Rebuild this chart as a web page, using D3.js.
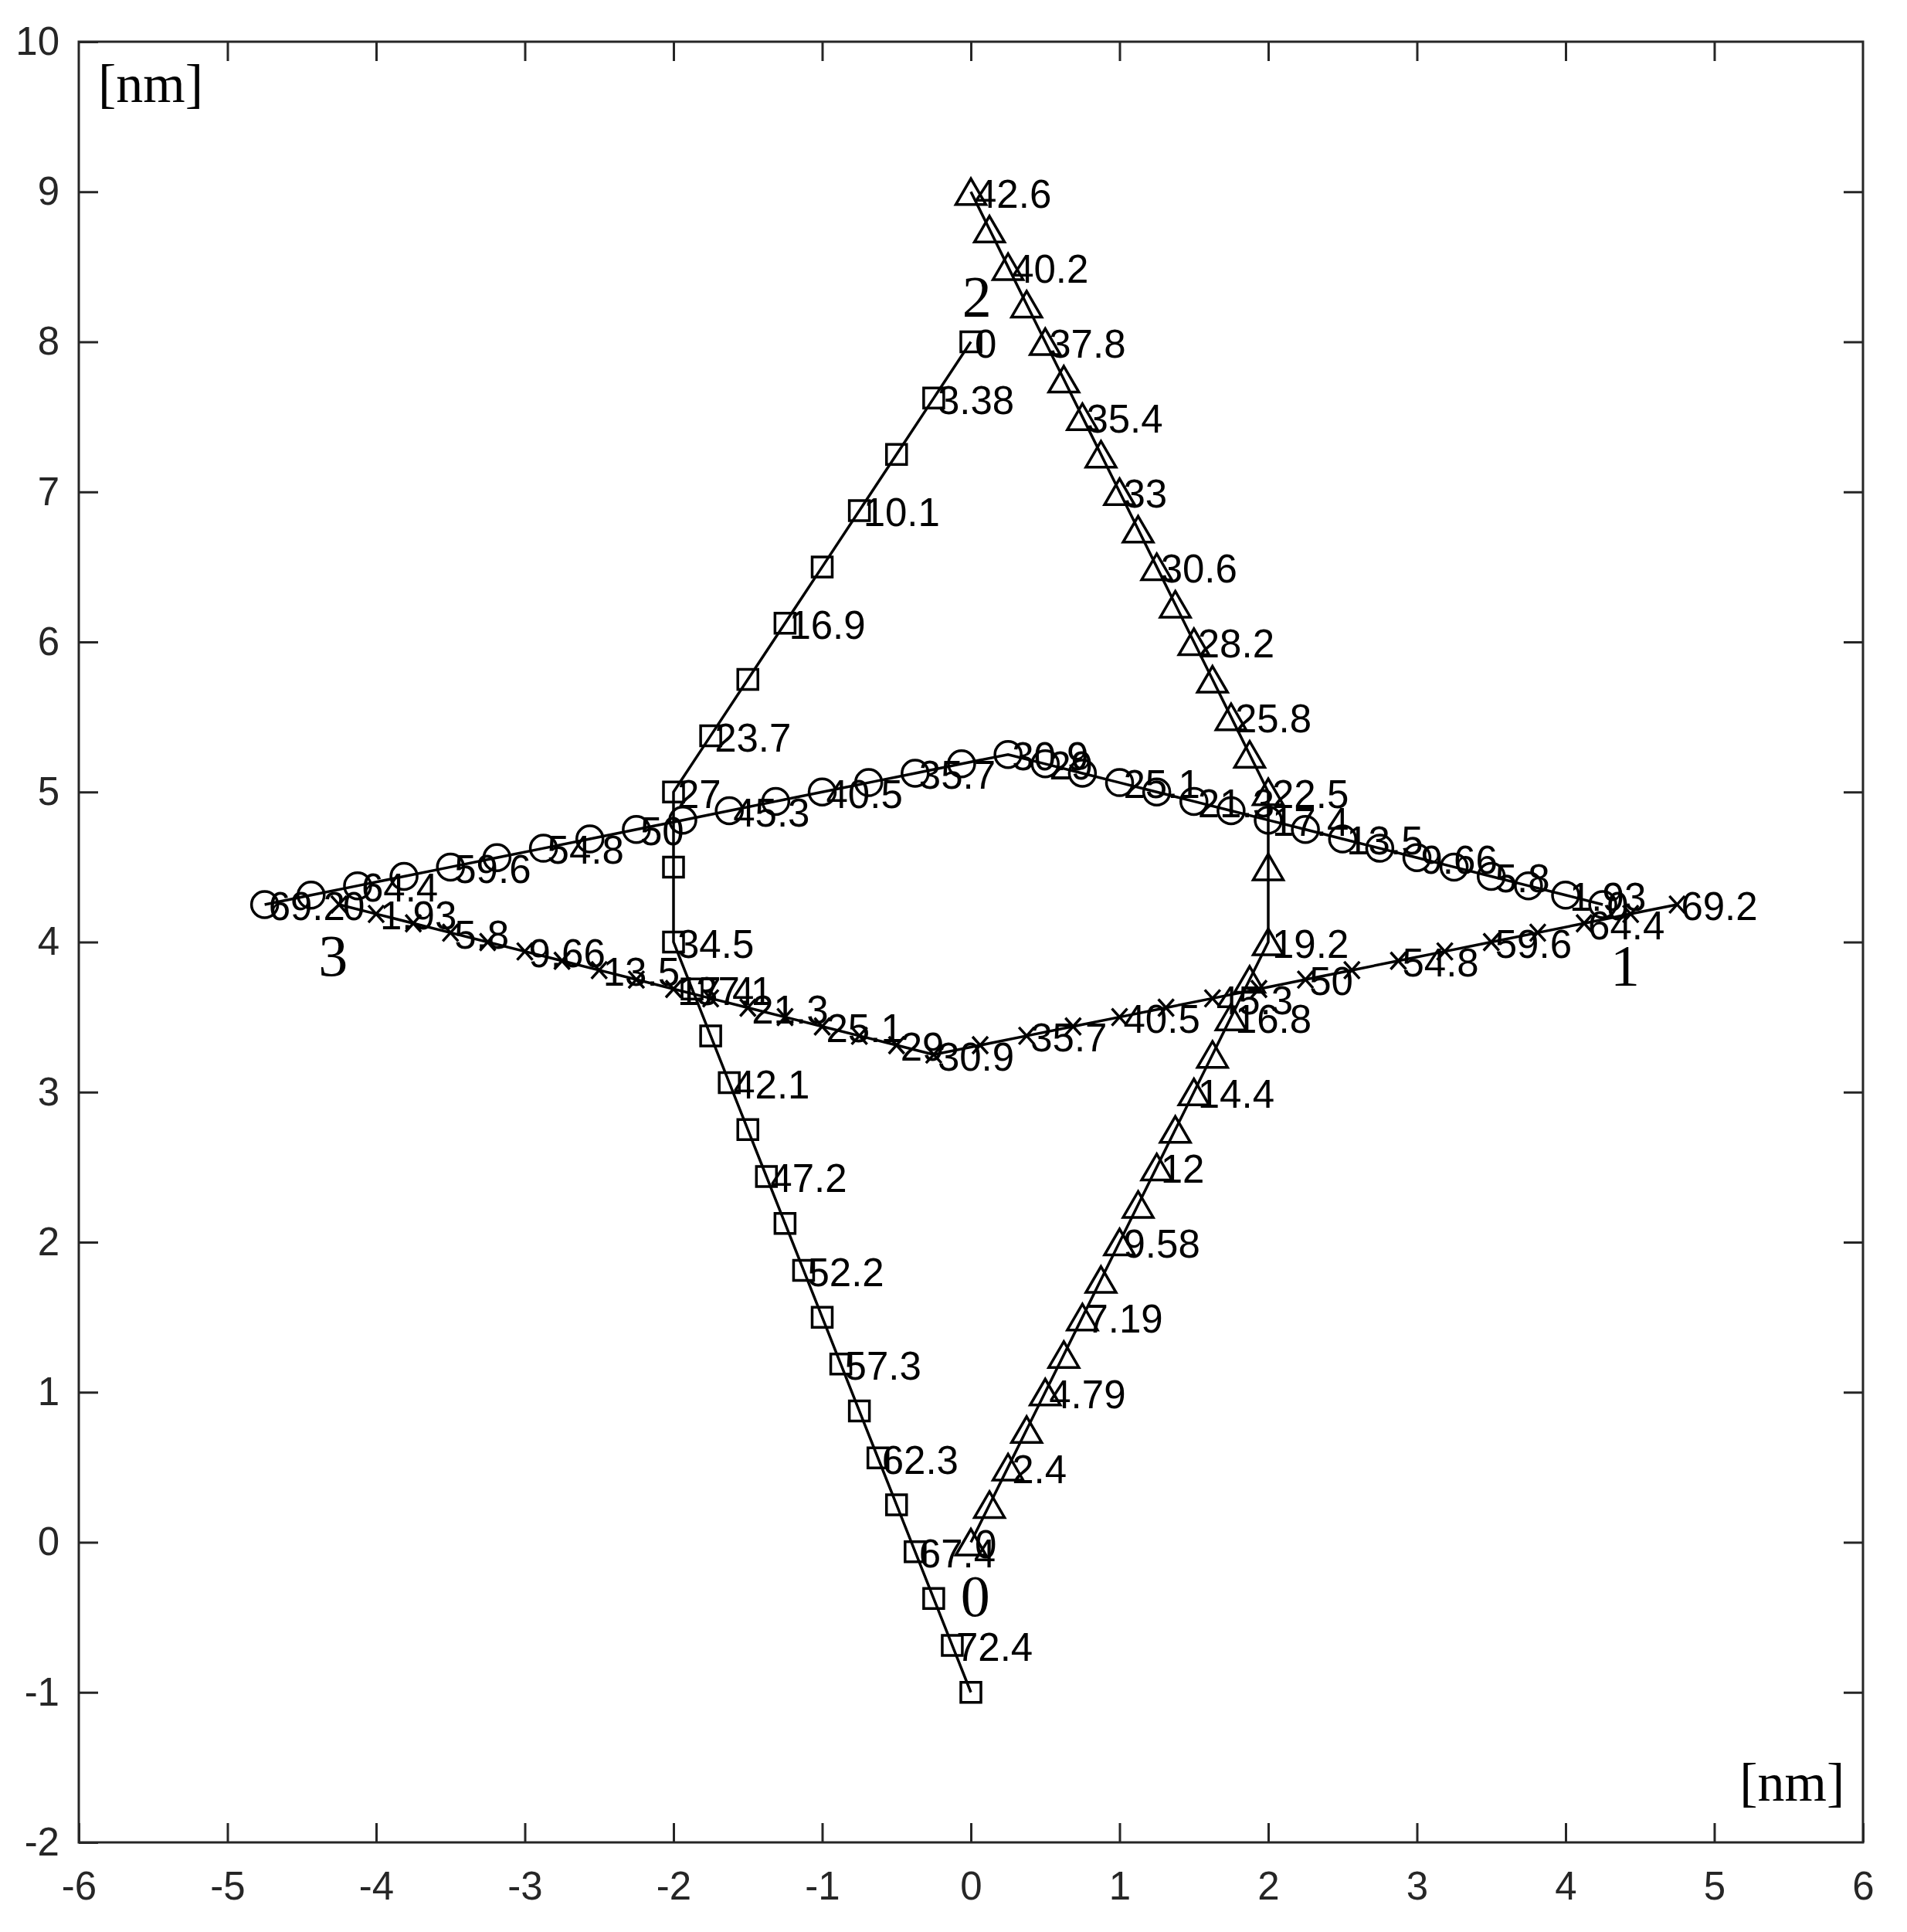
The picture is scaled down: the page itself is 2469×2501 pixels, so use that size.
<!DOCTYPE html>
<html>
<head>
<meta charset="utf-8">
<script src="https://cdn.jsdelivr.net/npm/d3@7"></script>
<style>
  html, body { margin: 0; padding: 0; background: #fff; }
  svg { display: block; }
</style>
</head>
<body>
<div id="chart"></div>
<script>
// square path: 2 -> 0
const sqX = [0, -0.25, -0.5, -0.75, -1, -1.25, -1.5, -1.75, -2, -2, -2, -1.875, -1.75, -1.625, -1.5, -1.375, -1.25, -1.125, -1, -0.875, -0.75, -0.625, -0.5, -0.375, -0.25, -0.125, 0]
const sqY = [8, 7.625, 7.25, 6.875, 6.5, 6.125, 5.75, 5.375, 5, 4.5, 4, 3.6875, 3.375, 3.0625, 2.75, 2.4375, 2.125, 1.8125, 1.5, 1.1875, 0.875, 0.5625, 0.25, -0.0625, -0.375, -0.6875, -1]
const sqLabels = ['0', '3.38', '', '10.1', '', '16.9', '', '23.7', '27', '', '34.5', '37.1', '', '42.1', '', '47.2', '', '52.2', '', '57.3', '', '62.3', '', '67.4', '', '72.4', '']

// triangle path: 0 -> 2
const triX = [0, 0.125, 0.25, 0.375, 0.5, 0.625, 0.75, 0.875, 1, 1.125, 1.25, 1.375, 1.5, 1.625, 1.75, 1.875, 2, 2, 2, 1.875, 1.75, 1.625, 1.5, 1.375, 1.25, 1.125, 1, 0.875, 0.75, 0.625, 0.5, 0.375, 0.25, 0.125, 0]
const triY = [0, 0.25, 0.5, 0.75, 1, 1.25, 1.5, 1.75, 2, 2.25, 2.5, 2.75, 3, 3.25, 3.5, 3.75, 4, 4.5, 5, 5.25, 5.5, 5.75, 6, 6.25, 6.5, 6.75, 7, 7.25, 7.5, 7.75, 8, 8.25, 8.5, 8.75, 9]
const triLabels = ['0', '', '2.4', '', '4.79', '', '7.19', '', '9.58', '', '12', '', '14.4', '', '16.8', '', '19.2', '', '22.5', '', '25.8', '', '28.2', '', '30.6', '', '33', '', '35.4', '', '37.8', '', '40.2', '', '42.6']

// circle path: 1 -> 3
const cirX = [4.25, 4, 3.75, 3.5, 3.25, 3, 2.75, 2.5, 2.25, 2, 1.75, 1.5, 1.25, 1, 0.75, 0.5, 0.25, -0.0625, -0.375, -0.6875, -1, -1.3125, -1.625, -1.9375, -2.25, -2.5625, -2.875, -3.1875, -3.5, -3.8125, -4.125, -4.4375, -4.75]
const cirY = [4.25, 4.3125, 4.375, 4.4375, 4.5, 4.5625, 4.625, 4.6875, 4.75, 4.8125, 4.875, 4.9375, 5, 5.0625, 5.125, 5.1875, 5.25, 5.1875, 5.125, 5.0625, 5, 4.9375, 4.875, 4.8125, 4.75, 4.6875, 4.625, 4.5625, 4.5, 4.4375, 4.375, 4.3125, 4.25]
const cirLabels = ['0', '1.93', '', '5.8', '', '9.66', '', '13.5', '', '17.4', '', '21.3', '', '25.1', '', '29', '30.9', '', '35.7', '', '40.5', '', '45.3', '', '50', '', '54.8', '', '59.6', '', '64.4', '', '69.2']

// cross path: 3 -> 1
const crsX = [-4.25, -4, -3.75, -3.5, -3.25, -3, -2.75, -2.5, -2.25, -2, -1.75, -1.5, -1.25, -1, -0.75, -0.5, -0.25, 0.0625, 0.375, 0.6875, 1, 1.3125, 1.625, 1.9375, 2.25, 2.5625, 2.875, 3.1875, 3.5, 3.8125, 4.125, 4.4375, 4.75]
const crsY = [4.25, 4.1875, 4.125, 4.0625, 4, 3.9375, 3.875, 3.8125, 3.75, 3.6875, 3.625, 3.5625, 3.5, 3.4375, 3.375, 3.3125, 3.25, 3.3125, 3.375, 3.4375, 3.5, 3.5625, 3.625, 3.6875, 3.75, 3.8125, 3.875, 3.9375, 4, 4.0625, 4.125, 4.1875, 4.25]
const crsLabels = ['0', '1.93', '', '5.8', '', '9.66', '', '13.5', '', '17.4', '', '21.3', '', '25.1', '', '29', '30.9', '', '35.7', '', '40.5', '', '45.3', '', '50', '', '54.8', '', '59.6', '', '64.4', '', '69.2']

// site numbers and unit labels
const siteNames = ['0', '1', '2', '3']
const siteX = [0.03, 4.4, 0.04, -4.29]
const siteY = [-0.36, 3.84, 8.3, 3.91]
const unitX = [-5.87, 5.17]
const unitY = [9.6, -1.72]

const xTicks = [-6, -5, -4, -3, -2, -1, 0, 1, 2, 3, 4, 5, 6]
const yTicks = [-2, -1, 0, 1, 2, 3, 4, 5, 6, 7, 8, 9, 10]

const width = 2469
const height = 2501
const margin = { left: 102, right: 57, top: 54, bottom: 116 }
const axisColor = '#262626'
const sans = '"Liberation Sans", Arial, sans-serif'
const serif = '"Liberation Serif", "Times New Roman", serif'
const lw = 3.5

const svg = d3.select('#chart')
  .append('svg')
  .attr('width', width)
  .attr('height', height)

svg.append('rect')
  .attr('width', width)
  .attr('height', height)
  .attr('fill', '#fff')

const x = d3.scaleLinear().domain([-6, 6]).range([margin.left, width - margin.right])
const y = d3.scaleLinear().domain([-2, 10]).range([height - margin.bottom, margin.top])

const pw = x(6) - x(-6)
const ph = y(-2) - y(10)

// axes, ticks pointing inside
const styleAxis = g => {
  g.select('.domain').remove()
  g.selectAll('.tick line').attr('stroke', axisColor).attr('stroke-width', 3)
  g.selectAll('.tick text')
    .attr('fill', axisColor)
    .attr('font-family', sans)
    .attr('font-size', 51)
}
const plain = d => String(d)
const blank = () => ''

svg.append('g')
  .attr('transform', `translate(0, ${y(-2)})`)
  .call(d3.axisBottom(x).tickValues(xTicks).tickSizeInner(-25).tickSizeOuter(0).tickPadding(38).tickFormat(plain))
  .call(styleAxis)

svg.append('g')
  .attr('transform', `translate(0, ${y(10)})`)
  .call(d3.axisTop(x).tickValues(xTicks.slice(1, -1)).tickSizeInner(-25).tickSizeOuter(0).tickFormat(blank))
  .call(styleAxis)

svg.append('g')
  .attr('transform', `translate(${x(-6)}, 0)`)
  .call(d3.axisLeft(y).tickValues(yTicks).tickSizeInner(-25).tickSizeOuter(0).tickPadding(25).tickFormat(plain))
  .call(styleAxis)

svg.append('g')
  .attr('transform', `translate(${x(6)}, 0)`)
  .call(d3.axisRight(y).tickValues(yTicks.slice(1, -1)).tickSizeInner(-25).tickSizeOuter(0).tickFormat(blank))
  .call(styleAxis)

svg.append('rect')
  .attr('x', x(-6))
  .attr('y', y(10))
  .attr('width', pw)
  .attr('height', ph)
  .attr('fill', 'none')
  .attr('stroke', axisColor)
  .attr('stroke-width', 3)

const line = d3.line().x(d => x(d[0])).y(d => y(d[1]))

const series = [
  { xs: sqX, ys: sqY, labels: sqLabels, marker: 'square' },
  { xs: triX, ys: triY, labels: triLabels, marker: 'triangle' },
  { xs: cirX, ys: cirY, labels: cirLabels, marker: 'circle' },
  { xs: crsX, ys: crsY, labels: crsLabels, marker: 'cross' }
]

const markerPath = {
  square: 'M-13,-13H13V13H-13Z',
  triangle: 'M0,-17L19.5,16.5H-19.5Z',
  circle: 'M17,0A17,17 0 1,1 -17,0A17,17 0 1,1 17,0Z',
  cross: 'M-10,-11L10,11M-10,11L10,-11'
}

series.forEach(s => {
  const pts = s.xs.map((v, i) => [v, s.ys[i], s.labels[i]])
  const g = svg.append('g')

  g.append('path')
    .datum(pts)
    .attr('d', line)
    .attr('fill', 'none')
    .attr('stroke', '#000')
    .attr('stroke-width', lw)

  g.selectAll('path.mk')
    .data(pts)
    .join('path')
    .attr('class', 'mk')
    .attr('transform', d => `translate(${x(d[0])}, ${y(d[1])})`)
    .attr('d', markerPath[s.marker])
    .attr('fill', 'none')
    .attr('stroke', '#000')
    .attr('stroke-width', lw)

  g.selectAll('text')
    .data(pts.filter(d => d[2] !== ''))
    .join('text')
    .attr('x', d => x(d[0]) + 5)
    .attr('y', d => y(d[1]) + 2)
    .attr('dy', '0.36em')
    .attr('font-family', sans)
    .attr('font-size', 51)
    .attr('fill', '#000')
    .text(d => d[2])
})

// site numbers
svg.append('g')
  .selectAll('text')
  .data(siteNames)
  .join('text')
  .attr('x', (d, i) => x(siteX[i]))
  .attr('y', (d, i) => y(siteY[i]))
  .attr('dy', '0.34em')
  .attr('text-anchor', 'middle')
  .attr('font-family', serif)
  .attr('font-size', 76)
  .attr('fill', '#000')
  .text(d => d)

// [nm] unit labels
svg.append('g')
  .selectAll('text')
  .data(unitX)
  .join('text')
  .attr('x', d => x(d))
  .attr('y', (d, i) => y(unitY[i]))
  .attr('font-family', serif)
  .attr('font-size', 70)
  .attr('fill', '#000')
  .text('[nm]')
</script>
</body>
</html>
